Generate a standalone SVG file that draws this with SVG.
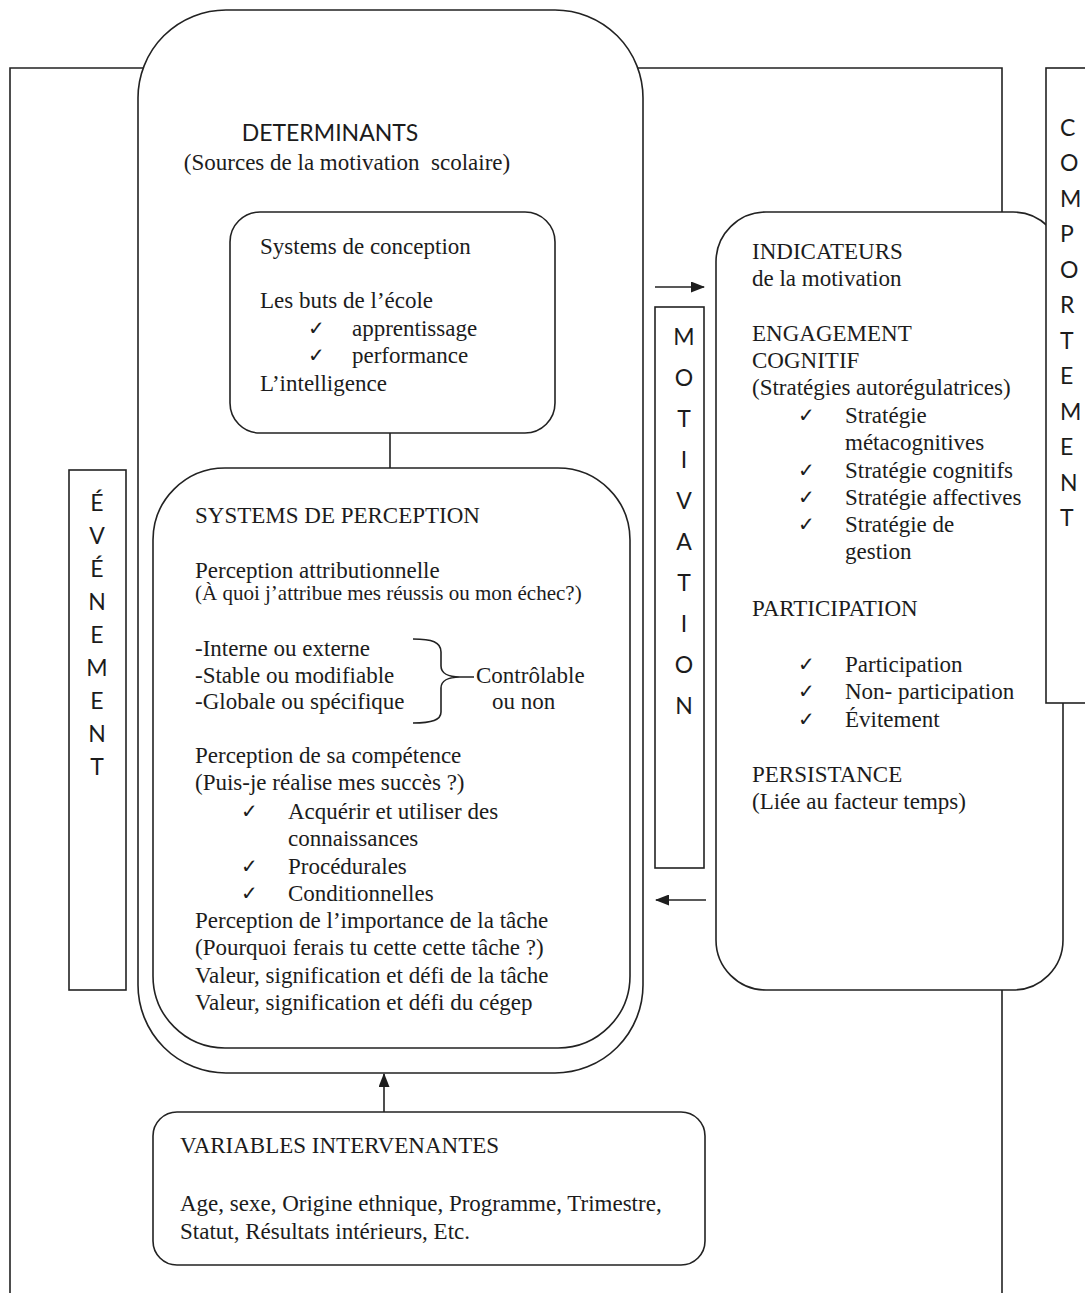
<svg xmlns="http://www.w3.org/2000/svg" width="1085" height="1293" viewBox="0 0 1085 1293">
<defs>
<marker id="ah" viewBox="0 0 14 11" refX="13" refY="5.5" markerWidth="14" markerHeight="11" markerUnits="userSpaceOnUse" orient="auto">
<path d="M0,0 L14,5.5 L0,11 Z" fill="#1e1e1e"/>
</marker>
<style>
.bx{fill:#fff;stroke:#222;stroke-width:1.6}
.ln{fill:none;stroke:#222;stroke-width:1.6}
.t{font-family:"Liberation Serif","Times New Roman",serif;font-size:23px;fill:#1c1c1c}
.ts{font-family:"Liberation Serif","Times New Roman",serif;font-size:21px;fill:#1c1c1c}
.ck{font-family:"DejaVu Sans",sans-serif;font-size:20px;fill:#1c1c1c}
.v{font-family:Lato,"Open Sans",sans-serif;font-size:23px;fill:#1c1c1c;text-anchor:middle}
.h{font-family:Lato,"Open Sans",sans-serif;font-size:23px;fill:#1c1c1c}
</style>
</defs>
<rect width="1085" height="1293" fill="#fff"/>
<g id="frame">
<path class="ln" d="M10,1293 V68 H1002 V1293"/>
</g>
<g id="determinants">
<rect class="bx" x="138" y="10" width="505" height="1063" rx="88" ry="88"/>
<text class="h" x="330" y="141" text-anchor="middle">DETERMINANTS</text>
<text class="t" x="347" y="170" text-anchor="middle" xml:space="preserve">(Sources de la motivation  scolaire)</text>
</g>
<g id="conception">
<rect class="bx" x="230" y="212" width="325" height="221" rx="30" ry="30"/>
<text class="t" x="260" y="254">Systems de conception</text>
<text class="t" x="260" y="308">Les buts de l’école</text>
<text class="ck" x="308" y="335">✓</text><text class="t" x="352" y="336">apprentissage</text>
<text class="ck" x="308" y="362">✓</text><text class="t" x="352" y="363">performance</text>
<text class="t" x="260" y="391">L’intelligence</text>
</g>
<g id="perception">
<rect class="bx" x="153" y="468" width="477" height="580" rx="72" ry="72"/>
<text class="t" x="195" y="523">SYSTEMS DE PERCEPTION</text>
<text class="t" x="195" y="578">Perception attributionnelle</text>
<text class="ts" x="195" y="600">(À quoi j’attribue mes réussis ou mon échec?)</text>
<text class="t" x="195" y="656">-Interne ou externe</text>
<text class="t" x="195" y="683">-Stable ou modifiable</text>
<text class="t" x="195" y="709">-Globale ou spécifique</text>
<path class="ln" d="M413,639 C432,639 441,642 441,652 L441,666 C441,673 448,677 460,677 L474,677 M460,677 C448,677 441,681 441,688 L441,712 C441,720 432,723 413,723"/>
<text class="t" x="476" y="683">Contrôlable</text>
<text class="t" x="492" y="709">ou non</text>
<text class="t" x="195" y="763">Perception de sa compétence</text>
<text class="t" x="195" y="790">(Puis-je réalise mes succès ?)</text>
<text class="ck" x="241" y="818">✓</text><text class="t" x="288" y="819">Acquérir et utiliser des</text>
<text class="t" x="288" y="846">connaissances</text>
<text class="ck" x="241" y="873">✓</text><text class="t" x="288" y="874">Procédurales</text>
<text class="ck" x="241" y="900">✓</text><text class="t" x="288" y="901">Conditionnelles</text>
<text class="t" x="195" y="928">Perception de l’importance de la tâche</text>
<text class="t" x="195" y="955">(Pourquoi ferais tu cette cette tâche ?)</text>
<text class="t" x="195" y="983">Valeur, signification et défi de la tâche</text>
<text class="t" x="195" y="1010">Valeur, signification et défi du cégep</text>
</g>
<g id="variables">
<rect class="bx" x="153" y="1112" width="552" height="153" rx="24" ry="24"/>
<text class="t" x="180" y="1153">VARIABLES INTERVENANTES</text>
<text class="t" x="180" y="1211">Age, sexe, Origine ethnique, Programme, Trimestre,</text>
<text class="t" x="180" y="1239">Statut, Résultats intérieurs, Etc.</text>
</g>
<g id="evenement">
<rect class="bx" x="69" y="470" width="57" height="520"/>
<text class="v" x="97" y="511">É</text>
<text class="v" x="97" y="544">V</text>
<text class="v" x="97" y="577">É</text>
<text class="v" x="97" y="610">N</text>
<text class="v" x="97" y="643">E</text>
<text class="v" x="97" y="676">M</text>
<text class="v" x="97" y="709">E</text>
<text class="v" x="97" y="742">N</text>
<text class="v" x="97" y="775">T</text>
</g>
<g id="motivation">
<rect class="bx" x="655" y="307" width="49" height="561"/>
<text class="v" x="684" y="345">M</text>
<text class="v" x="684" y="386">O</text>
<text class="v" x="684" y="427">T</text>
<text class="v" x="684" y="468">I</text>
<text class="v" x="684" y="509">V</text>
<text class="v" x="684" y="550">A</text>
<text class="v" x="684" y="591">T</text>
<text class="v" x="684" y="632">I</text>
<text class="v" x="684" y="673">O</text>
<text class="v" x="684" y="714">N</text>
</g>
<g id="indicateurs">
<rect class="bx" x="716" y="212" width="347" height="778" rx="50" ry="50"/>
<text class="t" x="752" y="259">INDICATEURS</text>
<text class="t" x="752" y="286">de la motivation</text>
<text class="t" x="752" y="341">ENGAGEMENT</text>
<text class="t" x="752" y="368">COGNITIF</text>
<text class="t" x="752" y="395">(Stratégies autorégulatrices)</text>
<text class="ck" x="798" y="422">✓</text><text class="t" x="845" y="423">Stratégie</text>
<text class="t" x="845" y="450">métacognitives</text>
<text class="ck" x="798" y="477">✓</text><text class="t" x="845" y="478">Stratégie cognitifs</text>
<text class="ck" x="798" y="504">✓</text><text class="t" x="845" y="505">Stratégie affectives</text>
<text class="ck" x="798" y="531">✓</text><text class="t" x="845" y="532">Stratégie de</text>
<text class="t" x="845" y="559">gestion</text>
<text class="t" x="752" y="616">PARTICIPATION</text>
<text class="ck" x="798" y="671">✓</text><text class="t" x="845" y="672">Participation</text>
<text class="ck" x="798" y="698">✓</text><text class="t" x="845" y="699">Non- participation</text>
<text class="ck" x="798" y="726">✓</text><text class="t" x="845" y="727">Évitement</text>
<text class="t" x="752" y="782">PERSISTANCE</text>
<text class="t" x="752" y="809">(Liée au facteur temps)</text>
</g>
<g id="comportement">
<rect class="bx" x="1046" y="68" width="60" height="635"/>
<text class="h" x="1060" y="136">C</text>
<text class="h" x="1060" y="171">O</text>
<text class="h" x="1060" y="207">M</text>
<text class="h" x="1060" y="242">P</text>
<text class="h" x="1060" y="278">O</text>
<text class="h" x="1060" y="313">R</text>
<text class="h" x="1060" y="349">T</text>
<text class="h" x="1060" y="384">E</text>
<text class="h" x="1060" y="420">M</text>
<text class="h" x="1060" y="455">E</text>
<text class="h" x="1060" y="491">N</text>
<text class="h" x="1060" y="526">T</text>
</g>
<g id="connectors">
<line class="ln" x1="390" y1="433" x2="390" y2="468"/>
<line class="ln" x1="655" y1="287" x2="704" y2="287" marker-end="url(#ah)"/>
<line class="ln" x1="706" y1="900" x2="656" y2="900" marker-end="url(#ah)"/>
<line class="ln" x1="384" y1="1112" x2="384" y2="1074" marker-end="url(#ah)"/>
</g>
</svg>
